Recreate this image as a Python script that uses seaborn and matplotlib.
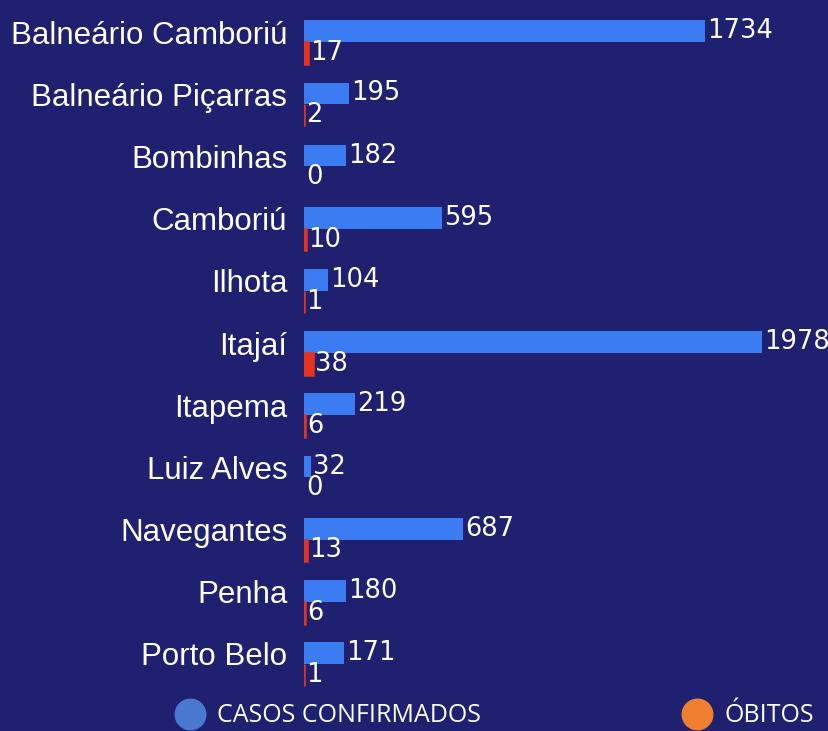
import matplotlib
matplotlib.use("Agg")
import matplotlib.pyplot as plt
from matplotlib.lines import Line2D
from matplotlib.font_manager import FontProperties
import pandas as pd
import seaborn as sns

# Dados
municipios = [
    "Balneário Camboriú", "Balneário Piçarras", "Bombinhas", "Camboriú",
    "Ilhota", "Itajaí", "Itapema", "Luiz Alves", "Navegantes", "Penha",
    "Porto Belo",
]
casos = [1734, 195, 182, 595, 104, 1978, 219, 32, 687, 180, 171]
obitos = [17, 2, 0, 10, 1, 38, 6, 0, 13, 6, 1]

FUNDO = "#1f2070"
AZUL = "#3b7cf2"
VERMELHO = "#e8321e"

plt.rcParams["font.family"] = ["Liberation Sans", "DejaVu Sans"]

df = pd.DataFrame(
    {
        "municipio": municipios * 2,
        "tipo": ["casos"] * len(casos) + ["obitos"] * len(obitos),
        "valor": casos + obitos,
    }
)

fig = plt.figure(figsize=(8.29, 7.31), dpi=100, facecolor=FUNDO)
ax = fig.add_axes([304 / 829, 0.0492, 0.62, 0.9357])
ax.set_facecolor(FUNDO)

sns.barplot(
    data=df, y="municipio", x="valor", hue="tipo", orient="h",
    palette={"casos": AZUL, "obitos": VERMELHO}, width=0.7,
    saturation=1, legend=False, ax=ax,
)

# barras de óbitos muito finas: contorno para ficarem visíveis
for p in ax.containers[1]:
    if p.get_width() > 0:
        p.set_edgecolor(VERMELHO)
        p.set_linewidth(1.8)

fonte_valor = FontProperties(family="DejaVu Sans", size=18.5)
for cont in ax.containers:
    ax.bar_label(cont, padding=1.5, color="white", fontproperties=fonte_valor)

ax.set_xlim(0, 2220)
ax.set_ylim(10.5, -0.5)
ax.set_yticks([i - 0.16 for i in range(len(municipios))])
ax.set_yticklabels(municipios, fontproperties=FontProperties(family="Liberation Sans", size=22.5))
ax.tick_params(axis="y", length=0, pad=12, labelcolor="white")
ax.set_xticks([])
ax.set_xlabel("")
ax.set_ylabel("")
for sp in ax.spines.values():
    sp.set_visible(False)

# Legenda com círculos
handles = [
    Line2D([], [], marker="o", linestyle="", markersize=22, color="#4a78d0"),
    Line2D([], [], marker="o", linestyle="", markersize=22, color="#f08030"),
]
leg = fig.legend(
    handles, ["CASOS CONFIRMADOS", "ÓBITOS"], loc="center left",
    bbox_to_anchor=(175 / 829, 1 - 716 / 731), ncol=2, frameon=False,
    prop=FontProperties(family="Open Sans", size=18), handlelength=1.2,
    handletextpad=0.5, columnspacing=8.0, borderpad=0, borderaxespad=0,
)
for t in leg.get_texts():
    t.set_color("white")

fig.savefig("out.png", dpi=100, facecolor=FUNDO)
